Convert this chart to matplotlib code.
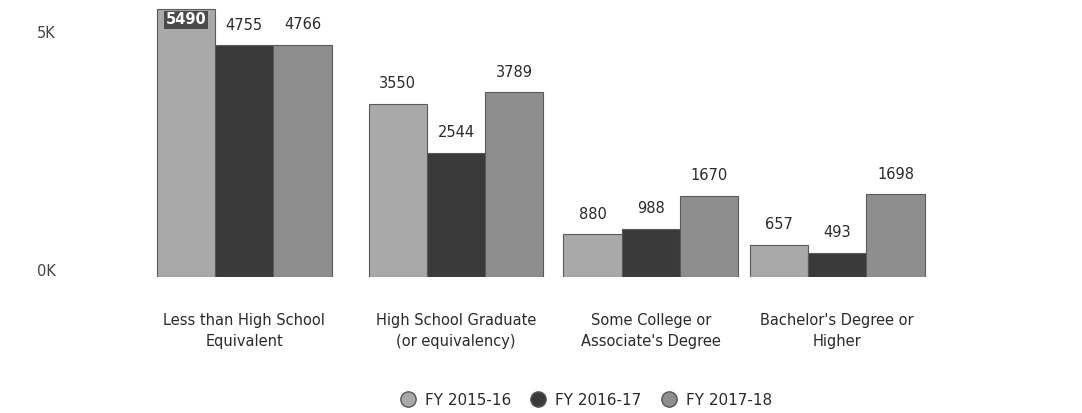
import matplotlib
matplotlib.use("Agg")
import matplotlib.pyplot as plt
from matplotlib.lines import Line2D
import numpy as np

# data
categories = [
    "Less than High School\nEquivalent",
    "High School Graduate\n(or equivalency)",
    "Some College or\nAssociate's Degree",
    "Bachelor's Degree or\nHigher",
]
series = ["FY 2015-16", "FY 2016-17", "FY 2017-18"]
fy1516 = [5490, 3550, 880, 657]
fy1617 = [4755, 2544, 988, 493]
fy1718 = [4766, 3789, 1670, 1698]
ytick_vals = [0, 5000]
ytick_labels = ["0K", "5K"]

colors = ["#a9a9a9", "#3a3a3a", "#8e8e8e"]
text_col = "#2a2a2a"

# the scan spreads the groups slightly unevenly
group_x = np.array([0.0, 1.072, 2.058, 3.0])
bar_w = 0.295

fig = plt.figure(figsize=(10.82, 4.13), dpi=100)
ax = fig.add_axes([0.111, 0.329, 0.776, 0.661])

for i, (vals, col) in enumerate(zip([fy1516, fy1617, fy1718], colors)):
    xs = group_x + (i - 1) * bar_w
    ax.bar(xs, vals, width=bar_w, color=col, edgecolor="#5a5a5a", linewidth=0.8)
    for x, v in zip(xs, vals):
        if v > 5300:
            # no room above, label sits inside the top of the bar
            ax.annotate(f"{v}", (x, v), xytext=(0, -2), textcoords="offset points",
                        ha="center", va="top", fontsize=10.5, color="white",
                        fontweight="bold",
                        bbox=dict(boxstyle="square,pad=0.1", fc="#4a4a4a", ec="none"))
        else:
            ax.text(x, min(v + 260, 5150), f"{v}", ha="center", va="bottom",
                    fontsize=10.5, color=text_col)

ax.set_xlim(-0.627, 3.62)
ax.set_ylim(0, 5600)
ax.set_yticks([])
ax.set_xticks(group_x)
ax.set_xticklabels(categories, fontsize=10.5, color=text_col, linespacing=1.45)
ax.tick_params(axis="x", length=0, pad=26)
for s in ax.spines.values():
    s.set_visible(False)

ytrans = ax.get_yaxis_transform()
for v, lab in zip(ytick_vals, ytick_labels):
    yv = v + 120 if v == 0 else v
    ax.text(-0.099, yv, lab, transform=ytrans, ha="left", va="center",
            fontsize=10.5, color="#444444")

handles = [Line2D([], [], marker="o", linestyle="none", markersize=11,
                  markerfacecolor=c, markeredgecolor="#555555") for c in colors]
fig.legend(handles, series, loc="lower center", bbox_to_anchor=(0.538, -0.02),
           ncol=3, frameon=False, fontsize=11, handletextpad=0.1,
           columnspacing=0.8, labelcolor=text_col)

fig.savefig("out.png", dpi=100)
